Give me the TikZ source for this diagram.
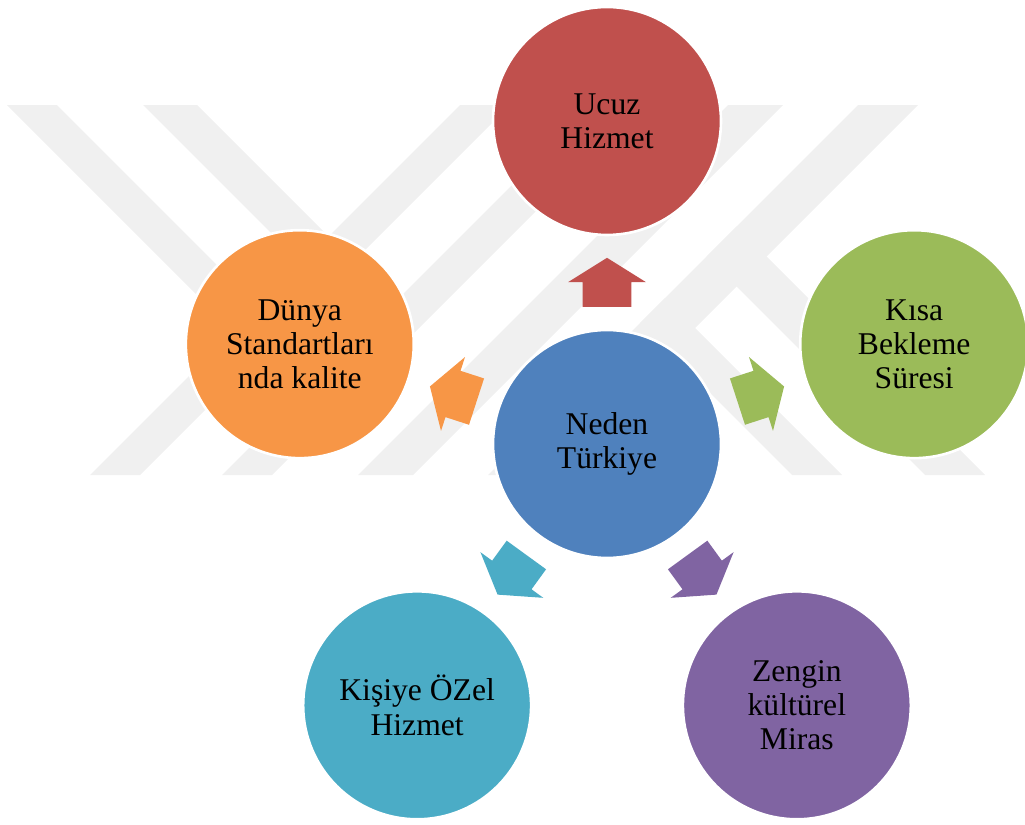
\documentclass[tikz,border=0pt]{standalone}
\usepackage{fontspec}
\setmainfont{Liberation Serif}
\usepackage{tikz}
\usetikzlibrary{shapes.arrows, calc, positioning}
\definecolor{nblue}{HTML}{4F81BD}
\definecolor{nred}{HTML}{C0504D}
\definecolor{ngreen}{HTML}{9BBB59}
\definecolor{norange}{HTML}{F79646}
\definecolor{nteal}{HTML}{4BACC6}
\definecolor{npurple}{HTML}{8064A2}

\begin{document}
\begin{tikzpicture}
    \tikzset{bubble/.style={circle, draw=white, line width=1.5pt, minimum size=4.56cm, inner sep=0pt,
            align=center, font=\fontsize{18}{19.5}\selectfont},
        blockarrow/.style={single arrow, minimum height=0.98cm, inner xsep=0pt, inner ysep=0.48cm,
            single arrow head extend=0.29cm, single arrow tip angle=116},
        watermark/.style={fill=black!6}
    }

    \useasboundingbox (0,0) rectangle (20.5,16.48);

    % faint logo behind the diagram
    \begin{scope}[shift={(0,16.48)}, x=0.02cm, y=-0.02cm]
        \foreach \s / \w in {565/50, 697/50, 833/55, 963/60} {
            \fill [watermark] (\s-475,475) -- (\s+\w-475,475) -- (\s+\w-105,105) -- (\s-105,105) -- cycle;
        }
        \fill [watermark] (7,105) -- (57,105) -- (283.5,331.5) -- (233.5,331.5) -- cycle;
        \fill [watermark] (143,105) -- (197,105) -- (419.5,327.5) -- (367.5,329.5) -- cycle;
        \fill [watermark] (640,323) -- (665,298) -- (842,475) -- (792,475) -- cycle;
        \fill [watermark] (706.5,256.5) -- (736.5,226.5) -- (985,475) -- (925,475) -- cycle;
    \end{scope}

    \node (Neden) [bubble, fill=nblue] at (12.14, 7.6) {Neden\\Türkiye};

    \foreach \name / \ang / \col / \txt in {Ucuz/90/nred/{Ucuz\\Hizmet},
            Kisa/18/ngreen/{Kısa\\Bekleme\\Süresi},
            Miras/306/npurple/{Zengin\\kültürel\\Miras},
            Ozel/234/nteal/{Kişiye ÖZel\\Hizmet},
            Dunya/162/norange/{Dünya\\Standartları\\nda kalite}} {
        \node (\name) [bubble, fill=\col] at ($(Neden)+(\ang:6.46)$) {\txt};
        \node (\name-Arrow) [blockarrow, fill=\col, rotate=\ang] at ($(Neden)!0.477!(\name)$) {};
    }
\end{tikzpicture}
\end{document}
